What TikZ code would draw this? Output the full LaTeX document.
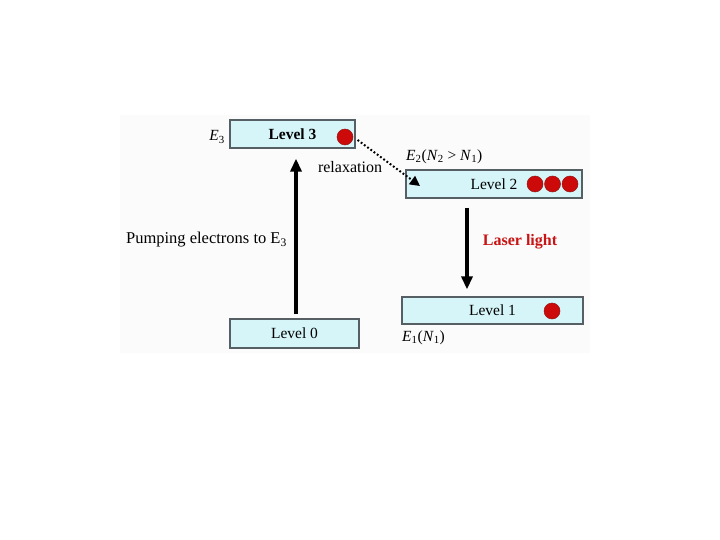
\documentclass[tikz,border=0pt]{standalone}
\usepackage{fontspec}
\setmainfont{Liberation Serif}
\usetikzlibrary{arrows.meta}
\definecolor{boxfill}{RGB}{213,245,248}
\definecolor{boxline}{RGB}{85,95,100}
\definecolor{dotred}{RGB}{205,10,10}
\definecolor{dotline}{RGB}{150,20,20}
\definecolor{laserred}{RGB}{200,20,20}
\definecolor{bggray}{RGB}{251,251,251}
\tikzset{
  levelbox/.style={draw=boxline, line width=1.2pt, fill=boxfill, inner sep=0pt,
    font=\fontsize{15.5}{18}\selectfont},
  electron/.style={circle, fill=dotred, draw=dotline, line width=0.5pt,
    minimum size=16pt, inner sep=0pt},
  lbl/.style={font=\fontsize{15.5}{18}\selectfont, inner sep=0pt},
  bigarrow/.style={line width=3.2pt, -{Triangle[length=13pt,width=11pt]}},
  relaxarrow/.style={line width=2pt, dash pattern=on 1.8pt off 2.2pt,
    -{Triangle[length=10pt,width=10pt]}},
}
\begin{document}
\begin{tikzpicture}[x=1pt,y=-1pt]
\useasboundingbox (0,0) rectangle (720,540);
\fill[bggray] (120,115) rectangle (590,353);

% level boxes
\node[levelbox, minimum width=125pt, minimum height=28pt] (L3) at (292.5,134) {\textbf{Level 3}};
\node[levelbox, minimum width=176pt, minimum height=28pt] (L2) at (494,184) {Level 2};
\node[levelbox, minimum width=181pt, minimum height=27pt] (L1) at (492.5,310.5) {Level 1};
\node[levelbox, minimum width=129pt, minimum height=29pt] (L0) at (294.5,333.5) {Level 0};

% electrons
\node[electron] (e3) at (345,137) {};
\node[electron] (e2a) at (535,184) {};
\node[electron] (e2b) at (552.5,184) {};
\node[electron] (e2c) at (570,184) {};
\node[electron] (e1) at (552,311) {};

% labels
\node[lbl] (lE3) at (217,137) {\textit{E}\textsubscript{3}};
\node[lbl, font=\fontsize{16}{19}\selectfont] (lrel) at (350,167) {relaxation};
\node[lbl, anchor=east, font=\fontsize{16.5}{19}\selectfont] (lpump) at (287,240) {Pumping electrons to E\textsubscript{3}};
\node[lbl, anchor=west] (lE2) at (406,157) {\textit{E}\textsubscript{2}(\textit{N}\textsubscript{2} > \textit{N}\textsubscript{1})};
\node[lbl, font=\bfseries\fontsize{16}{19}\selectfont, text=laserred] (llaser) at (520,242) {Laser light};
\node[lbl, anchor=west] (lE1) at (402,338) {\textit{E}\textsubscript{1}(\textit{N}\textsubscript{1})};

% arrows
\draw[bigarrow] ([xshift=1.5pt,yshift=4pt]L0.north) -- ([xshift=3.5pt,yshift=-10pt]L3.south);
\draw[bigarrow] ([xshift=-27pt,yshift=-9pt]L2.south) -- ([xshift=-25.5pt,yshift=7pt]L1.north);
\draw[relaxarrow] ([xshift=2pt,yshift=-6pt]L3.east) -- ([xshift=-74pt,yshift=-2pt]L2.center);
\end{tikzpicture}
\end{document}
